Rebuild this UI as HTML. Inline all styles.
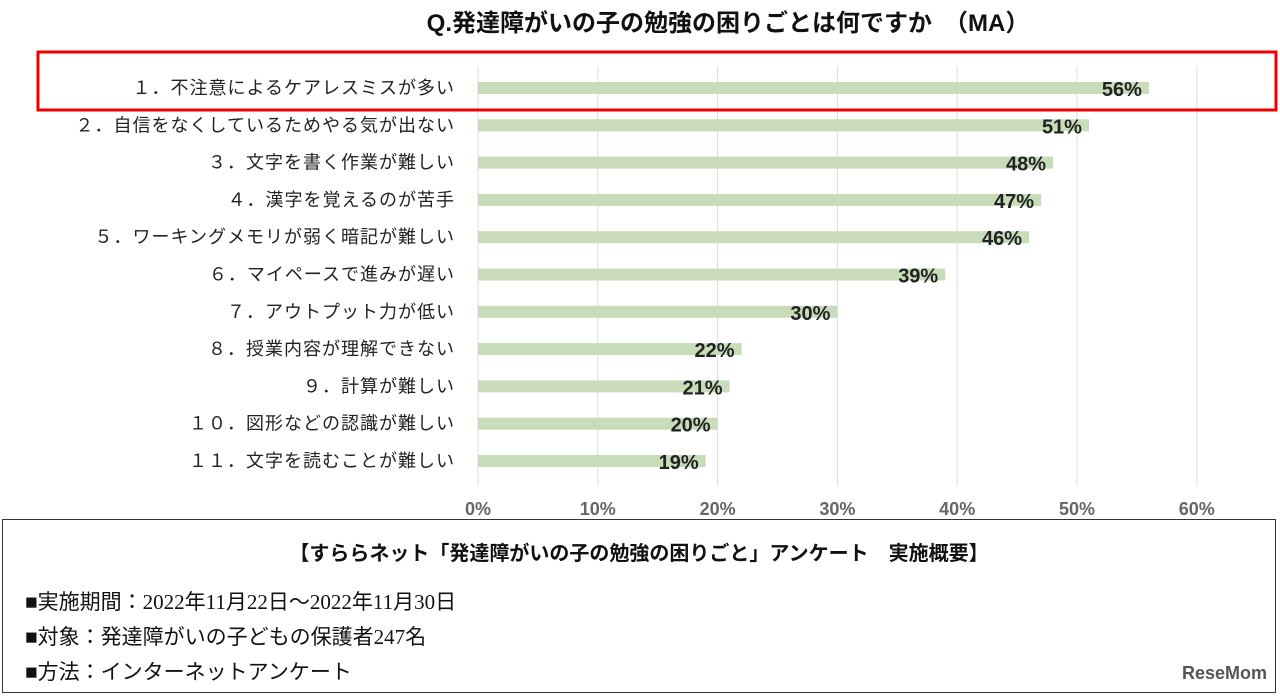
<!DOCTYPE html>
<html><head><meta charset="utf-8"><style>
body{margin:0;background:#fff;width:1280px;height:696px;overflow:hidden;font-family:"Liberation Sans","Noto Sans CJK JP",sans-serif}
#info{position:absolute;left:2px;top:519px;width:1274px;height:174px;border:1.5px solid #333;box-sizing:border-box}
.ln{position:absolute;left:22px;font-size:21px;color:#111;font-family:"Liberation Serif","Noto Sans CJK JP",serif}
</style></head><body>
<svg id="chart" width="1280" height="520" style="position:absolute;left:0;top:0">
<text x="728" y="31" text-anchor="middle" font-size="24" font-weight="bold" fill="#111" font-family="Liberation Sans,Noto Sans CJK JP,sans-serif">Q.発達障がいの子の勉強の困りごとは何ですか　（MA）</text>
<g id="grid"></g><g id="bars"></g>
<rect x="38" y="52" width="1238" height="58" fill="none" stroke="#e00" stroke-width="3"/>
</svg>
<div id="info">
<div style="position:absolute;left:0;right:0;top:17px;text-align:center;font-size:20px;font-weight:bold;color:#111">【すららネット「発達障がいの子の勉強の困りごと」アンケート　実施概要】</div>
<div class="ln" style="top:66px">■実施期間：2022年11月22日～2022年11月30日</div>
<div class="ln" style="top:101px">■対象：発達障がいの子どもの保護者247名</div>
<div class="ln" style="top:136px">■方法：インターネットアンケート</div>
<div style="position:absolute;right:8px;bottom:8px;font-size:18px;font-weight:bold;color:#555">ReseMom</div>
</div>
<script>
const categories=["１．不注意によるケアレスミスが多い","２．自信をなくしているためやる気が出ない","３．文字を書く作業が難しい","４．漢字を覚えるのが苦手","５．ワーキングメモリが弱く暗記が難しい","６．マイペースで進みが遅い","７．アウトプット力が低い","８．授業内容が理解できない","９．計算が難しい","１０．図形などの認識が難しい","１１．文字を読むことが難しい"];
const values=[56,51,48,47,46,39,30,22,21,20,19];
const ticks=[0,10,20,30,40,50,60];
const NS="http://www.w3.org/2000/svg";
const x=v=>478+v*11.98;
const y=i=>88+i*37.3;
function mk(t,a,p,txt){const e=document.createElementNS(NS,t);for(const k in a)e.setAttribute(k,a[k]);if(txt!=null)e.textContent=txt;p.appendChild(e);return e;}
const g=document.getElementById('grid'),b=document.getElementById('bars');
ticks.forEach(t=>{
 const l=mk('line',{x1:x(t),x2:x(t),y1:66,y2:486,stroke:'#ddd','stroke-width':1},g);
 
 
 const tx=mk('text',{x:x(t),y:515,'text-anchor':'middle','font-size':18,fill:'#666','font-weight':'bold'},g,t+'%');
 
 
});
categories.forEach((c,i)=>{
 const lb=mk('text',{x:455,y:y(i)+6,'text-anchor':'end','font-size':18,fill:'#222','letter-spacing':'1'},b,c);
 
 
 const r=mk('rect',{x:x(0),y:y(i)-6,width:x(values[i])-x(0),height:12,fill:'#c8dcba'},b);
 
 
 const v=mk('text',{x:x(values[i])-7,y:y(i)+8,'text-anchor':'end','font-size':20,'font-weight':'bold',fill:'#222'},b,values[i]+'%');
 
 
});
</script>
</body></html>
